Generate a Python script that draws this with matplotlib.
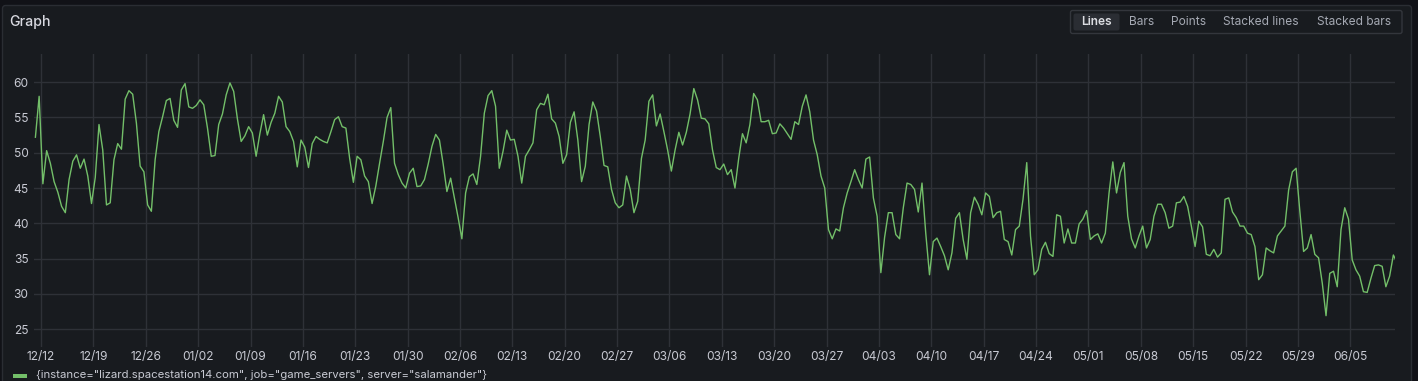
import matplotlib
matplotlib.use("Agg")
import matplotlib.pyplot as plt
import matplotlib.dates as mdates
from matplotlib.patches import FancyBboxPatch, Rectangle
from matplotlib.transforms import Affine2D
import pandas as pd

plt.rcParams['font.family'] = ['Inter', 'DejaVu Sans']

start_time = "2024-12-11 06:00"
values = [
    52.2, 58.0, 45.6, 50.3, 48.5, 45.9, 44.4, 42.4, 41.5, 46.2,
    48.8, 49.7, 47.8, 49.1, 46.7, 42.8, 46.5, 54.0, 50.4, 42.6,
    42.9, 49.0, 51.3, 50.5, 57.6, 58.8, 58.3, 54.2, 48.1, 47.3,
    42.6, 41.7, 49.0, 53.0, 55.1, 57.4, 57.7, 54.6, 53.6, 58.9,
    59.8, 56.5, 56.3, 56.7, 57.5, 56.8, 53.5, 49.5, 49.6, 54.0,
    55.5, 58.2, 59.9, 58.7, 54.8, 51.6, 52.4, 53.7, 52.8, 49.5,
    52.7, 55.4, 52.5, 54.3, 55.6, 58.0, 57.2, 53.7, 53.0, 51.6,
    48.0, 51.8,
    50.8, 47.9, 51.3, 52.3, 51.9, 51.6, 51.4, 53.0, 54.7, 55.1,
    53.7, 53.5, 49.2, 45.8, 49.5, 49.0, 46.7, 45.9, 42.8, 45.3,
    48.5, 51.6, 55.0, 56.4, 48.5, 46.9, 45.7, 45.0, 47.1, 47.8,
    45.2, 45.3, 46.2, 48.4, 50.9, 52.6, 51.8, 48.4, 44.5, 46.4,
    43.6, 40.8, 37.8, 44.3, 46.6, 47.0, 45.5, 49.5, 55.6, 58.1,
    58.8, 56.6, 47.8, 50.2, 53.2, 51.8, 51.9, 49.5, 45.7, 49.5,
    50.4, 51.4, 56.1, 57.0, 56.8, 58.3, 54.8, 54.2, 52.3, 48.5,
    49.7, 54.3, 55.8, 51.8, 45.9, 48.1, 54.0, 57.2, 55.9, 52.3,
    48.2, 48.0, 44.8, 42.9, 42.2, 42.6, 46.7, 44.8, 41.5, 43.1,
    49.2, 51.8, 57.3, 58.2, 53.8, 55.5, 53.0, 50.4, 47.4, 50.4,
    52.9, 51.1, 52.9, 55.5, 59.1, 57.5, 54.9, 54.8, 54.1, 50.4,
    47.9, 47.6, 48.4, 46.9, 47.6, 45.0, 49.2, 52.7, 51.4, 54.0,
    58.4, 57.5, 54.4, 54.4, 54.6, 52.7, 52.8, 54.1, 53.5, 52.7,
    51.9, 54.4, 54.0, 56.6, 58.2, 55.8, 51.8, 49.7, 46.7, 45.0,
    39.1, 37.8, 39.2, 38.9, 42.2, 44.3, 45.9, 47.6, 46.2, 45.0,
    49.1, 49.4, 43.6, 41.0, 33.0, 38.0, 41.5, 41.5, 38.4, 37.8,
    42.2, 45.7, 45.5, 44.8, 41.6, 45.7, 38.6, 32.7, 37.4, 37.9,
    36.7, 35.4, 33.4, 35.8, 40.7, 41.5, 37.7, 34.9, 41.5, 43.7,
    42.7, 41.2, 44.3, 43.8, 40.8, 41.5, 41.7, 37.7, 37.4, 35.5,
    39.1, 39.6, 43.4, 48.6, 38.2, 32.7, 33.4, 36.3, 37.3, 35.7,
    35.3, 41.2, 41.0, 37.2, 39.2, 37.2, 37.2, 39.9, 40.6, 41.8,
    37.7, 38.2, 38.5, 37.2, 38.6, 44.3, 48.7, 44.3, 47.2, 48.6,
    41.0, 37.8, 36.5, 38.2, 39.6, 36.5, 37.7, 41.0, 42.7, 42.7,
    41.5, 39.3, 39.6, 42.9, 43.0, 43.8, 42.4, 39.6, 36.7, 40.3,
    39.5, 35.6, 35.4, 36.3, 35.2, 35.8, 43.4, 43.6, 41.6, 40.8,
    39.6, 39.6, 38.6, 38.4, 36.7, 32.0, 32.7, 36.5, 36.1, 35.8,
    38.2, 38.9, 39.6, 44.7, 47.3, 47.8, 41.7, 36.0, 36.5, 38.4,
    35.6, 35.1, 31.5, 26.9, 32.9, 33.2, 31.0, 39.1, 42.2, 40.6,
    34.8, 33.4, 32.5, 30.3, 30.2, 32.2, 34.0, 34.1, 33.9, 31.0,
    32.5, 35.5, 34.4,
]
y_ticks = [25, 30, 35, 40, 45, 50, 55, 60]
first_tick = "2024-12-12"
last_tick = "2025-06-05"
view_start = "2024-12-11 01:30"
view_end = "2025-06-10 23:15"

panel_title = "Graph"
modes = ["Lines", "Bars", "Points", "Stacked lines", "Stacked bars"]
series_name = '{instance="lizard.spacestation14.com", job="game_servers", server="salamander"}'

times = pd.date_range(start_time, periods=len(values), freq="12h")

W, H, DPI = 1418, 381, 100
fig = plt.figure(figsize=(W / DPI, H / DPI), dpi=DPI, facecolor="#111217")
# pixel coords, origin top-left
pix = Affine2D().scale(1, -1).translate(0, H).scale(1 / DPI) + fig.dpi_scale_trans

fig.add_artist(FancyBboxPatch((2.5, 5.5), 1409, 420, boxstyle="round,pad=0,rounding_size=3",
                              fc="#181b1f", ec="#2a2d33", lw=1, transform=pix, zorder=-5))
fig.text(9.5, 22, panel_title, transform=pix, color="#d8d9e0", fontsize=10.2,
         fontweight="medium", va="center", ha="left")

# mode switch
fig.add_artist(FancyBboxPatch((1070.5, 10.5), 331.5, 23, boxstyle="round,pad=0,rounding_size=2",
                              fc="none", ec="#33363c", lw=1, transform=pix, zorder=-4))
fig.add_artist(FancyBboxPatch((1073.5, 13.5), 46, 17, boxstyle="round,pad=0,rounding_size=2",
                              fc="#2a2d33", ec="none", transform=pix, zorder=-4))
mode_x = [1096.7, 1141.3, 1188.3, 1261, 1353.7]
for name, mx in zip(modes, mode_x):
    sel = name == "Lines"
    fig.text(mx, 22, name, transform=pix, ha="center", va="center", fontsize=8.6,
             color="#dcdde2" if sel else "#a5a9b3", fontweight="semibold" if sel else "normal")

ax = fig.add_axes([34 / W, 1 - 346.7 / H, (1395 - 34) / W, (346.7 - 54) / H])
ax.set_facecolor("none")
ax.plot(times, values, color="#73bf69", lw=1.0)

ax.set_ylim(22.5, 64.0)
ax.set_yticks(y_ticks)
ax.set_xlim(pd.Timestamp(view_start), pd.Timestamp(view_end))
ax.set_xticks(pd.date_range(first_tick, last_tick, freq="7D"))
ax.xaxis.set_major_formatter(mdates.DateFormatter("%m/%d"))

ax.grid(color="#2e3137", lw=1)
ax.set_axisbelow(True)
for s in ax.spines.values():
    s.set_visible(False)
ax.tick_params(length=0, colors="#c8cad3", labelsize=8.6)
ax.tick_params(axis="y", pad=4)
ax.tick_params(axis="x", pad=3)

# legend, kept just inside the bottom edge
fig.add_artist(Rectangle((12.5, 373.5), 14, 4, fc="#73bf69", ec="none", transform=pix))
fig.text(36.5, 380, series_name, transform=pix, ha="left", va="bottom", fontsize=8.2, color="#c8cad3")

fig.savefig("out.png", dpi=DPI, facecolor=fig.get_facecolor())
